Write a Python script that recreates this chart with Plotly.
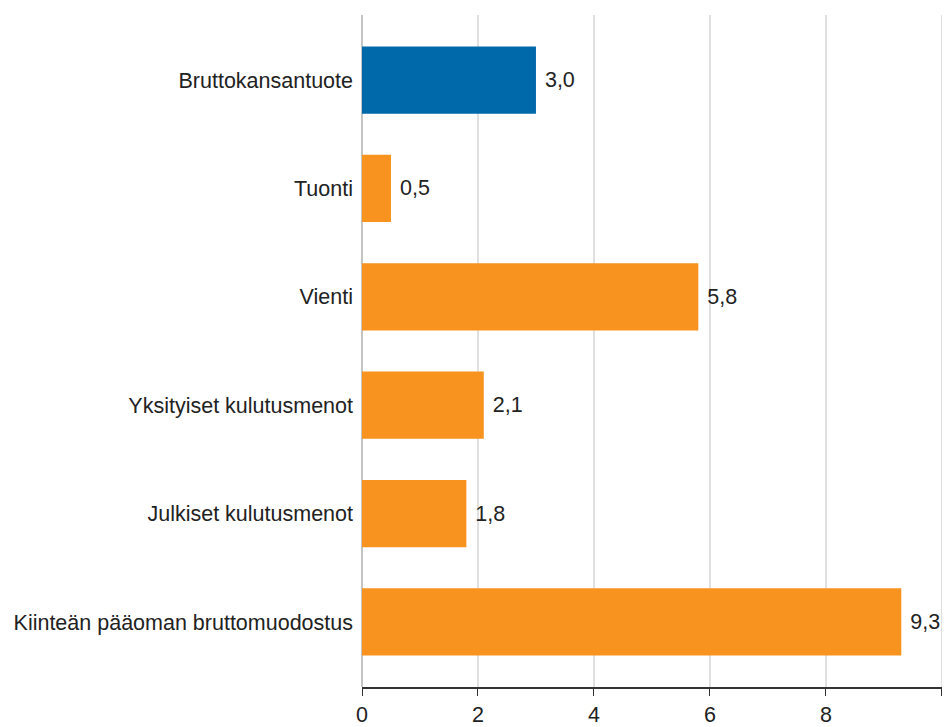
import plotly.graph_objects as go

categories = ["Bruttokansantuote", "Tuonti", "Vienti", "Yksityiset kulutusmenot",
              "Julkiset kulutusmenot", "Kiinteän pääoman bruttomuodostus"]
values = [3.0, 0.5, 5.8, 2.1, 1.8, 9.3]
colors = ["#0069aa", "#f7931e", "#f7931e", "#f7931e", "#f7931e", "#f7931e"]
labels = [" " + f"{v:.1f}".replace(".", ",") for v in values]

fig = go.Figure(go.Bar(
    y=categories, x=values, orientation="h",
    marker=dict(color=colors, line=dict(width=0)),
    text=labels, textposition="outside", cliponaxis=False,
    textfont=dict(size=21.5, color="#222222"),
    width=0.62,
))

fig.update_layout(
    width=942, height=719,
    margin=dict(l=354, r=0, t=7, b=40),
    plot_bgcolor="white", paper_bgcolor="white",
    font=dict(family="Liberation Sans, Arial, sans-serif", size=22, color="#222222"),
    showlegend=False,
    xaxis=dict(range=[0, 10.14], dtick=2, tick0=0, showgrid=True, gridcolor="#e0e0e0",
               gridwidth=1.5, zeroline=True, zerolinecolor="#c4c4c4", zerolinewidth=1.5,
               showline=True, linecolor="#333333", linewidth=1.5,
               ticks="outside", ticklen=7, tickcolor="#333333",
               tickfont=dict(size=21.5), automargin=False),
    yaxis=dict(categoryorder="array", categoryarray=categories,
               range=[5.6, -0.6], showgrid=False, ticks="", ticklabelstandoff=8,
               tickfont=dict(size=21.5), automargin=False),
)

fig.write_html("out.html")
